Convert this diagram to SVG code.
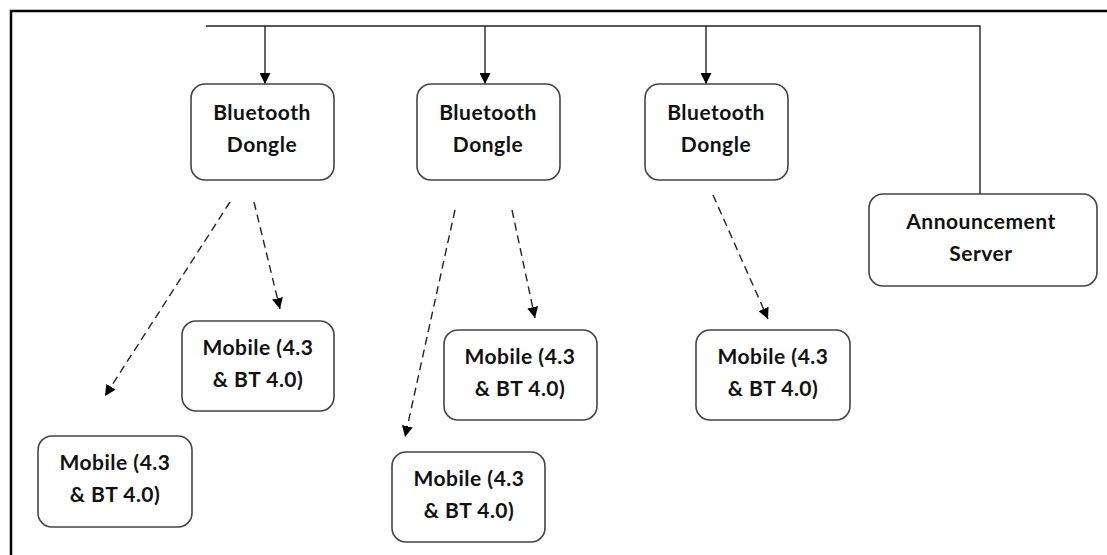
<svg xmlns="http://www.w3.org/2000/svg" width="1107" height="555" viewBox="0 0 1107 555">
<defs>
<style>
.box{fill:#fff;stroke:#444;stroke-width:1.6}
.t{font-family:Lato,"Open Sans",sans-serif;font-weight:bold;font-size:21px;letter-spacing:0.5px;fill:#111;text-anchor:middle}
.solid{fill:none;stroke:#222;stroke-width:1.4}
.dash{fill:none;stroke:#222;stroke-width:1.4;stroke-dasharray:8,5}
.frame{fill:none;stroke:#000;stroke-width:2.5}
</style>
<marker id="ah" viewBox="0 0 10 10" refX="10" refY="5" markerWidth="11" markerHeight="11" markerUnits="userSpaceOnUse" orient="auto">
<path d="M0,0 L10,5 L0,10 z" fill="#000"/>
</marker>
</defs>
<rect width="1107" height="555" fill="#fff"/>
<path class="frame" d="M11,555 V11 H1107"/>
<g id="connectors">
<path class="solid" d="M206,26 H980 V194"/>
<path class="solid" d="M265,26 V84" marker-end="url(#ah)"/>
<path class="solid" d="M485,26 V84" marker-end="url(#ah)"/>
<path class="solid" d="M706,26 V84" marker-end="url(#ah)"/>
<path class="dash" d="M230,202 L105,396" marker-end="url(#ah)"/>
<path class="dash" d="M254,202 L280,309" marker-end="url(#ah)"/>
<path class="dash" d="M455,210 L405,437" marker-end="url(#ah)"/>
<path class="dash" d="M512,210 L535,318" marker-end="url(#ah)"/>
<path class="dash" d="M713,195 L768,319" marker-end="url(#ah)"/>
</g>
<g id="dongle1"><rect class="box" x="191" y="84" width="143" height="96" rx="14"/><text class="t" x="262" y="120">Bluetooth</text><text class="t" x="262" y="152">Dongle</text></g>
<g id="dongle2"><rect class="box" x="417" y="84" width="143" height="96" rx="14"/><text class="t" x="488" y="120">Bluetooth</text><text class="t" x="488" y="152">Dongle</text></g>
<g id="dongle3"><rect class="box" x="645" y="84" width="143" height="96" rx="14"/><text class="t" x="716" y="120">Bluetooth</text><text class="t" x="716" y="152">Dongle</text></g>
<g id="server"><rect class="box" x="869" y="194" width="228" height="92" rx="14"/><text class="t" x="981" y="229">Announcement</text><text class="t" x="981" y="261">Server</text></g>
<g id="mobile1"><rect class="box" x="38" y="436" width="154" height="91" rx="14"/><text class="t" x="115" y="470">Mobile (4.3</text><text class="t" x="115" y="502">&amp; BT 4.0)</text></g>
<g id="mobile2"><rect class="box" x="182" y="321" width="152" height="90" rx="14"/><text class="t" x="258" y="355">Mobile (4.3</text><text class="t" x="258" y="387">&amp; BT 4.0)</text></g>
<g id="mobile3"><rect class="box" x="392" y="452" width="153" height="90" rx="14"/><text class="t" x="469" y="486">Mobile (4.3</text><text class="t" x="469" y="518">&amp; BT 4.0)</text></g>
<g id="mobile4"><rect class="box" x="444" y="330" width="153" height="90" rx="14"/><text class="t" x="520" y="364">Mobile (4.3</text><text class="t" x="520" y="396">&amp; BT 4.0)</text></g>
<g id="mobile5"><rect class="box" x="696" y="330" width="154" height="90" rx="14"/><text class="t" x="773" y="364">Mobile (4.3</text><text class="t" x="773" y="396">&amp; BT 4.0)</text></g>
</svg>
